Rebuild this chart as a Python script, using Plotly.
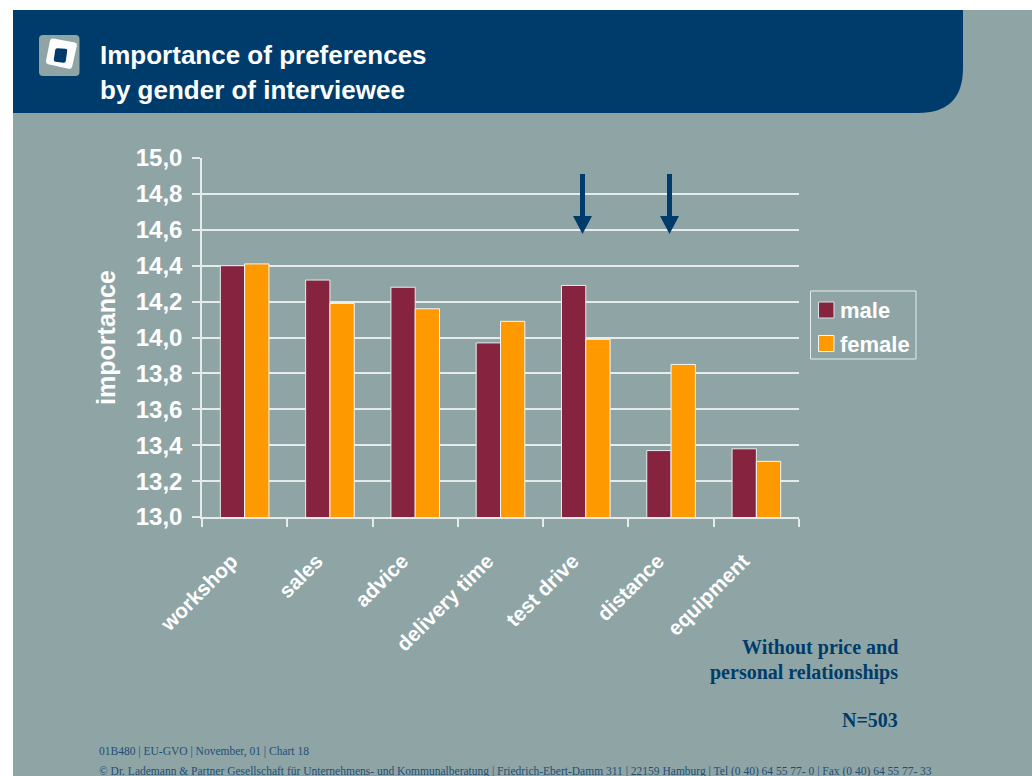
import plotly.graph_objects as go

categories = ["workshop", "sales", "advice", "delivery time", "test drive", "distance", "equipment"]
male = [14.40, 14.32, 14.28, 13.97, 14.29, 13.37, 13.38]
female = [14.41, 14.19, 14.16, 14.09, 13.99, 13.85, 13.31]
y_ticks = [13.0, 13.2, 13.4, 13.6, 13.8, 14.0, 14.2, 14.4, 14.6, 14.8, 15.0]
series_names = ["male", "female"]

W, H = 1032, 776
BG = "#8FA5A5"
NAVY = "#003C6B"
GRID = "#E6ECEC"
MALE = "#86243F"
FEMALE = "#FF9900"
SANS = "Liberation Sans, Arial, sans-serif"
SERIF = "Liberation Serif, Times New Roman, serif"

def X(p): return p / W
def Y(p): return 1 - p / H
def path(points, r=0):
    n = len(points)
    s = ""
    for i, (x, y) in enumerate(points):
        px, py = points[i - 1]
        nx, ny = points[(i + 1) % n]
        d1 = ((px - x) ** 2 + (py - y) ** 2) ** 0.5
        d2 = ((nx - x) ** 2 + (ny - y) ** 2) ** 0.5
        a = (x + (px - x) * r / d1, y + (py - y) * r / d1)
        b = (x + (nx - x) * r / d2, y + (ny - y) * r / d2)
        s += ("M " if i == 0 else "L ") + f"{X(a[0]):.5f},{Y(a[1]):.5f} "
        s += f"Q {X(x):.5f},{Y(y):.5f} {X(b[0]):.5f},{Y(b[1]):.5f} "
    return s + "Z"

fig = go.Figure()
fig.add_bar(name=series_names[0], x=categories, y=male, marker=dict(color=MALE, line=dict(color="#E6ECEC", width=1)))
fig.add_bar(name=series_names[1], x=categories, y=female, marker=dict(color=FEMALE, line=dict(color="#F4F6F6", width=1)))

P = dict(xref="paper", yref="paper")
shapes = [
    dict(type="rect", **P, x0=X(13), x1=1, y0=0, y1=Y(10), fillcolor=BG, line_width=0, layer="below"),
    # header band with rounded lower-right corner
    dict(type="path", **P, layer="below", fillcolor=NAVY, line_width=0,
         path=(f"M {X(13):.5f},{Y(10):.5f} L {X(963):.5f},{Y(10):.5f} L {X(963):.5f},{Y(68):.5f} "
               f"Q {X(963):.5f},{Y(113):.5f} {X(918):.5f},{Y(113):.5f} L {X(13):.5f},{Y(113):.5f} Z")),
    # logo
    dict(type="path", **P, fillcolor=BG, line_width=0, path=path([(39, 35), (79.5, 35), (79.5, 76), (39, 76)], 4)),
    dict(type="path", **P, fillcolor="white", line_width=0, path=path([(50.5, 38), (77.5, 43), (71.5, 69.5), (45.5, 63.5)], 3)),
    dict(type="path", **P, fillcolor=NAVY, line_width=0, path=path([(55.5, 48), (67.5, 49), (65.5, 63), (53.5, 61.5)], 2)),
    # legend frame and swatches
    dict(type="rect", **P, x0=X(810.5), x1=X(916), y0=Y(359), y1=Y(291), line=dict(color="#E6ECEC", width=1)),
    dict(type="rect", **P, x0=X(818.5), x1=X(834), y0=Y(318), y1=Y(302), fillcolor=MALE, line=dict(color="#DCE4E4", width=1)),
    dict(type="rect", **P, x0=X(818.5), x1=X(834), y0=Y(351.5), y1=Y(335.5), fillcolor=FEMALE, line=dict(color="#F4F6F6", width=1)),
]
# highlight arrows
for cx in (582.5, 669.5):
    shapes.append(dict(type="rect", **P, x0=X(cx - 2.5), x1=X(cx + 2.5), y0=Y(216), y1=Y(174), fillcolor=NAVY, line_width=0))
    shapes.append(dict(type="path", **P, fillcolor=NAVY, line_width=0,
                       path=path([(cx - 9.5, 216), (cx + 9.5, 216), (cx, 234)], 0.01)))

def note(text, x, y, size, family, color, anchor="left", bold=False):
    return dict(text=f"<b>{text}</b>" if bold else text, x=X(x), y=Y(y), **P,
                xanchor=anchor, yanchor="middle", showarrow=False,
                font=dict(size=size, family=family, color=color))

annotations = [
    note("Importance of preferences", 98, 55, 26, SANS, "white", bold=True),
    note("by gender of interviewee", 98, 90, 26, SANS, "white", bold=True),
    note("Without price and", 900, 647, 20, SERIF, NAVY, "right", True),
    note("personal relationships", 900, 672, 20, SERIF, NAVY, "right", True),
    note("N=503", 900, 720, 20, SERIF, NAVY, "right", True),
    note("01B480 | EU-GVO | November, 01 | Chart 18", 97, 751, 11.5, SERIF, "#1D4E78"),
    note("© Dr. Lademann &amp; Partner Gesellschaft für Unternehmens- und Kommunalberatung | "
         "Friedrich-Ebert-Damm 311 | 22159 Hamburg | Tel (0 40) 64 55 77- 0 | Fax (0 40) 64 55 77- 33",
         97, 771, 11.5, SERIF, "#1D4E78"),
    note(series_names[0], 838, 310, 22, SANS, "white", bold=True),
    note(series_names[1], 838, 344, 22, SANS, "white", bold=True),
]

fig.update_layout(
    width=W, height=H, autosize=False,
    margin=dict(l=0, r=0, t=0, b=0, pad=0),
    paper_bgcolor="white", plot_bgcolor="rgba(0,0,0,0)",
    barmode="group", bargap=0.43, bargroupgap=0,
    separators=",.",
    font=dict(family=SANS, color="white"),
    shapes=shapes, annotations=annotations,
    showlegend=False,
    xaxis=dict(domain=[X(202), X(799)], tickangle=-45, tickson="boundaries", ticks="outside", ticklen=8,
               tickcolor=GRID, tickwidth=1.5, showline=True, linecolor=GRID, linewidth=1.5, showgrid=False,
               ticklabelstandoff=22, ticklabelshift=-13,
               tickfont=dict(size=20.8, family=SANS, color="white", weight="bold"), automargin=False),
    yaxis=dict(domain=[Y(517), Y(158)], range=[13, 15], tickmode="array", tickvals=y_ticks, tickformat=".1f",
               ticks="outside", ticklen=8, tickcolor=GRID, tickwidth=1.5, showline=True, linecolor=GRID, linewidth=1.5,
               gridcolor=GRID, gridwidth=1.5, zeroline=False, automargin=False, ticklabelstandoff=5,
               tickfont=dict(size=24, family=SANS, color="white", weight="bold"),
               title=dict(text="<b>importance</b>", standoff=13, font=dict(size=25, family=SANS, color="white"))),
)

fig.write_html("out.html", config=dict(displayModeBar=False),
               post_script="document.body.style.margin='0';document.documentElement.style.overflow='hidden';")
